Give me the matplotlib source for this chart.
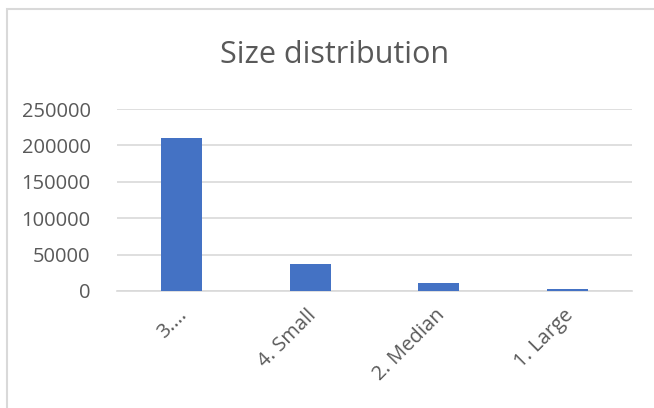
import matplotlib.pyplot as plt
from matplotlib.patches import Rectangle
from matplotlib.transforms import ScaledTranslation

# Data
categories = ["3....", "4. Small", "2. Median", "1. Large"]
counts = [210000, 37000, 10500, 3200]
yticks = [0, 50000, 100000, 150000, 200000, 250000]

W, H = 654, 408
fig = plt.figure(figsize=(W / 100, H / 100), dpi=100)
plt.rcParams['font.family'] = ['Open Sans', 'DejaVu Sans']

# chart area border (cut off at right / bottom)
fig.patches.append(Rectangle((7 / W, -0.1), 1.2, 1 - 9 / H + 0.1,
                             transform=fig.transFigure, fill=False,
                             edgecolor="#d9d9d9", lw=1.5))

ax = fig.add_axes([117 / W, 1 - 291 / H, (632 - 117) / W, (291 - 109) / H])
ax.bar(range(len(categories)), counts, width=0.32, color="#4472C4", zorder=3)
ax.set_xlim(-0.5, len(categories) - 0.5)
ax.set_ylim(0, 250000)
ax.set_yticks(yticks)
ax.set_yticklabels([str(v) for v in yticks])
ax.grid(axis="y", color="#d9d9d9", lw=1.2, zorder=0)
for s in ["top", "right", "left"]:
    ax.spines[s].set_visible(False)
ax.spines["bottom"].set_color("#d9d9d9")
ax.spines["bottom"].set_linewidth(1.2)
ax.tick_params(axis="both", length=0, colors="#595959", labelsize=14.5)
ax.tick_params(axis="y", pad=19)
ax.set_xticks(range(len(categories)))
ax.set_xticklabels(categories, rotation=45, ha="right", va="top",
                   rotation_mode="anchor")
ax.tick_params(axis="x", pad=11)
shift = ScaledTranslation(-4 / 100, 1 / 100, fig.dpi_scale_trans)
for lbl in ax.get_xticklabels():
    lbl.set_transform(lbl.get_transform() + shift)

fig.text(335 / W, 1 - 55 / H, "Size distribution", ha="center", va="center",
         fontsize=22, color="#595959")

fig.savefig("out.png", dpi=100)
